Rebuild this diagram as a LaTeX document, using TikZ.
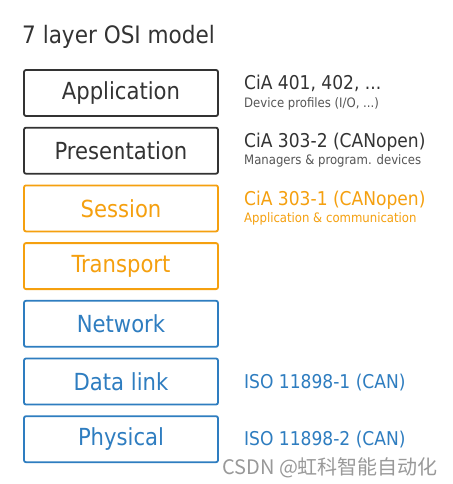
\documentclass[tikz,border=0pt]{standalone}
\usepackage{fontspec}
\setmainfont{DejaVu Sans Condensed}
\newfontfamily\cjkfont{Noto Sans CJK SC}
\definecolor{darkgray}{RGB}{51, 51, 51}
\definecolor{midgray}{RGB}{85, 85, 85}
\definecolor{orange}{RGB}{245, 160, 15}
\definecolor{blue}{RGB}{46, 125, 192}
\usetikzlibrary{positioning, calc}
\tikzset{
    layer/.style={
        rectangle, rounded corners=2pt,
        minimum width=194pt, minimum height=46pt,
        draw=#1, text=#1, outer sep=0pt,
        font=\fontsize{23.5}{28}\selectfont, line width=1.8pt
    },
    std/.style={anchor=base west, text=#1, inner sep=0pt,
        font=\fontsize{19}{23}\selectfont},
    sub/.style={anchor=base west, text=#1, inner sep=0pt,
        font=\fontsize{13}{16}\selectfont}
}
\begin{document}
\begin{tikzpicture}[x=1pt, y=-1pt, node distance=11.7pt]
    \useasboundingbox[fill=white] (0,0) rectangle (452,484);

    % Title
    \node[anchor=base west, inner sep=0pt, text=darkgray,
        font=\fontsize{24}{28}\selectfont] (title) at (22,44) {7 layer OSI model};

    % Layers - vertical
    \node[layer=darkgray] (app) at (121,93) {Application};
    \node[layer=darkgray, below=of app] (pres) {Presentation};
    \node[layer=orange, below=of pres] (sess) {Session};
    \node[layer=orange, below=of sess] (trans) {Transport};
    \node[layer=blue, below=of trans] (net) {Network};
    \node[layer=blue, below=of net] (dlink) {Data link};
    \node[layer=blue, below=of dlink] (phys) {Physical};

    % Standards on the right
    \node[std=darkgray] (appstd) at ($(app.east)+(26,-3)$) {CiA 401, 402, ...};
    \node[sub=midgray] (appsub) at ($(app.east)+(26,14)$) {Device profiles (I/O, ...)};
    \node[std=darkgray] (presstd) at ($(pres.east)+(26,-3)$) {CiA 303-2 (CANopen)};
    \node[sub=midgray] (pressub) at ($(pres.east)+(26,14)$) {Managers \& program. devices};
    \node[std=orange] (sessstd) at ($(sess.east)+(26,-3)$) {CiA 303-1 (CANopen)};
    \node[sub=orange] (sesssub) at ($(sess.east)+(26,14)$) {Application \& communication};
    \node[std=blue] (dlinkstd) at ($(dlink.east)+(26,6.5)$) {ISO 11898-1 (CAN)};
    \node[std=blue] (physstd) at ($(phys.east)+(26,6.5)$) {ISO 11898-2 (CAN)};

    % Watermark
    \node[anchor=base west, inner sep=0pt, text=black!40,
        font=\cjkfont\fontsize{20}{24}\selectfont] (mark) at (222,474) {CSDN @虹科智能自动化};
\end{tikzpicture}
\end{document}
